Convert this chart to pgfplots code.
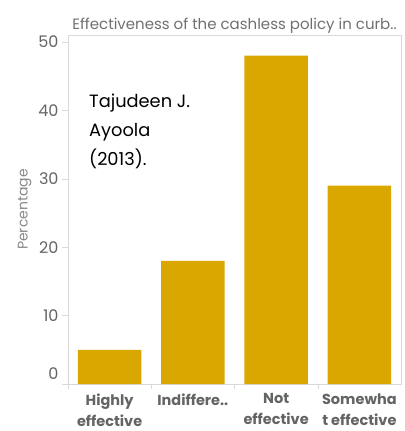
\documentclass[border=0pt]{standalone}
\usepackage{pgfplots}
\pgfplotsset{compat=1.18}
\usepackage{fontspec}
\setmainfont{Poppins}
\definecolor{bargold}{RGB}{218,167,0}
\definecolor{axisgray}{RGB}{217,217,217}
\definecolor{ticktext}{RGB}{100,100,100}
\definecolor{titletext}{RGB}{112,112,112}
\definecolor{labeltext}{RGB}{136,136,136}
\begin{document}
\begin{tikzpicture}
\path[use as bounding box] (0bp,0bp) rectangle (405bp,431bp);
\begin{axis}[
  at={(68bp,47bp)}, anchor=south west,
  scale only axis, width=333bp, height=349bp,
  xmin=-0.5, xmax=3.5, ymin=0, ymax=51,
  axis line style={draw=axisgray},
  tick align=outside,
  xtick pos=left, ytick pos=left,
  xtick={0,1,2,3},
  minor xtick={-0.5,0.5,1.5,2.5},
  major x tick style={draw=none},
  minor x tick style={draw=axisgray},
  minor tick length=5bp,
  major tick length=6bp,
  y tick style={draw=axisgray},
  xticklabels={{Highly\\effective},{Indiffere..},{Not\\effective},{Somewha\\t effective}},
  xticklabel style={align=center, font=\fontsize{14.5bp}{21bp}\selectfont\bfseries, text=ticktext},
  ytick={10,20,30,40,50},
  extra y ticks={0},
  extra y tick style={yticklabel style={yshift=10bp}},
  yticklabel style={font=\fontsize{16bp}{18bp}\selectfont, text=ticktext},
  /pgf/number format/assume math mode=true,
  ylabel={Percentage},
  ylabel style={font=\fontsize{14bp}{16bp}\selectfont, text=labeltext, yshift=-12bp},
  title={Effectiveness of the cashless policy in curb..},
  title style={font=\fontsize{15bp}{17bp}\selectfont, text=titletext, anchor=base, yshift=0bp},
  clip=false,
]
\addplot[ybar, bar width=0.76, fill=bargold, draw=none] coordinates {(0,5) (1,18) (2,48) (3,29)};
\node[anchor=base west, inner sep=0pt, font=\fontsize{17.8bp}{20bp}\selectfont] at (axis cs:-0.248,40.35) {Tajudeen J.};
\node[anchor=base west, inner sep=0pt, font=\fontsize{17.8bp}{20bp}\selectfont] at (axis cs:-0.248,36.1) {Ayoola};
\node[anchor=base west, inner sep=0pt, font=\fontsize{17.8bp}{20bp}\selectfont] at (axis cs:-0.248,31.87) {(2013).};
\end{axis}
\end{tikzpicture}
\end{document}
